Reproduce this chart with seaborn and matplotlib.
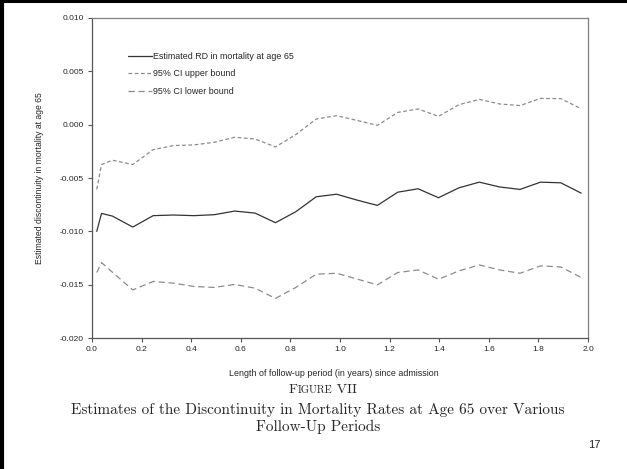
import matplotlib
matplotlib.use("Agg")
import matplotlib.pyplot as plt
import seaborn as sns
import pandas as pd
from matplotlib.lines import Line2D
from matplotlib.ticker import FormatStrFormatter, MultipleLocator

FIGURE_FILENAME = "out.png"
W, H = 627, 469

follow_up_days = [7, 14, 30, 60, 90, 120, 150, 180, 210, 240, 270, 300, 330,
                  360, 390, 420, 450, 480, 510, 540, 570, 600, 630, 660, 690, 720]
rd_estimate = [-0.01000, -0.00832, -0.00857, -0.00960, -0.00853, -0.00847, -0.00853,
               -0.00844, -0.00810, -0.00829, -0.00919, -0.00816, -0.00676, -0.00652,
               -0.00707, -0.00757, -0.00633, -0.00601, -0.00685, -0.00592, -0.00539,
               -0.00584, -0.00607, -0.00539, -0.00545, -0.00642]
ci_upper = [-0.00607, -0.00374, -0.00333, -0.00374, -0.00234, -0.00196, -0.00190,
            -0.00165, -0.00118, -0.00134, -0.00209, -0.00093, 0.00053, 0.00084,
            0.00040, -0.00007, 0.00115, 0.00147, 0.00078, 0.00187, 0.00237,
            0.00194, 0.00179, 0.00246, 0.00244, 0.00149]
ci_lower = [-0.01386, -0.01293, -0.01383, -0.01549, -0.01470, -0.01486, -0.01517,
            -0.01526, -0.01498, -0.01533, -0.01629, -0.01526, -0.01402, -0.01393,
            -0.01447, -0.01502, -0.01386, -0.01362, -0.01449, -0.01371, -0.01315,
            -0.01362, -0.01393, -0.01324, -0.01334, -0.01433]

series_labels = ["Estimated RD in mortality at age 65",
                 "95% CI upper bound",
                 "95% CI lower bound"]
x_label = "Length of follow-up period (in years) since admission"
y_label = "Estimated discontinuity in mortality at age 65"
caption_lines = ["Estimates of the Discontinuity in Mortality Rates at Age 65 over Various",
                 "Follow-Up Periods"]
page_number = "17"


def px(x, y):
    # pixel (from top-left) -> figure fraction
    return x / W, 1 - y / H


def small_caps_title(fig, y_px, pieces, center_px):
    renderer = fig.canvas.get_renderer()
    widths = []
    for text, size in pieces:
        t = fig.text(0, 0, text, fontsize=size, family="cmr10")
        widths.append(t.get_window_extent(renderer).width)
        t.remove()
    x = center_px - sum(widths) / 2
    for (text, size), w in zip(pieces, widths):
        fig.text(*px(x, y_px), text, fontsize=size, family="cmr10", va="baseline", ha="left")
        x += w


def main():
    sns.set_style("white")
    plt.rcParams["font.family"] = ["Liberation Sans", "DejaVu Sans"]

    years = [d / 365 for d in follow_up_days]
    df = pd.DataFrame({"years": years, "rd": rd_estimate, "upper": ci_upper, "lower": ci_lower})

    fig = plt.figure(figsize=(W / 100, H / 100), dpi=100)
    ax = fig.add_axes([92 / W, 1 - 338 / H, 496 / W, 320 / H])

    sns.lineplot(data=df, x="years", y="rd", ax=ax, color="#333333", linewidth=0.9,
                 label=series_labels[0])
    sns.lineplot(data=df, x="years", y="upper", ax=ax, color="#8c8c8c", linewidth=0.9,
                 linestyle=(0, (3, 2)), label=series_labels[1])
    sns.lineplot(data=df, x="years", y="lower", ax=ax, color="#8c8c8c", linewidth=0.9,
                 linestyle=(0, (5, 3)), label=series_labels[2])

    ax.set_xlim(0, 2.0)
    ax.set_ylim(-0.020, 0.010)
    ax.xaxis.set_major_locator(MultipleLocator(0.2))
    ax.yaxis.set_major_locator(MultipleLocator(0.005))
    ax.xaxis.set_major_formatter(FormatStrFormatter("%.1f"))
    ax.yaxis.set_major_formatter(FormatStrFormatter("%.3f"))
    ax.tick_params(axis="both", which="major", direction="out", length=3, width=0.8,
                   color="#555555", labelsize=6.0, pad=3, bottom=True, left=True)
    for side, sp in ax.spines.items():
        sp.set_color("#808080" if side in ("top", "right") else "#555555")
        sp.set_linewidth(0.9)

    ax.set_xlabel(x_label, fontsize=6.4)
    ax.set_ylabel(y_label, fontsize=6.2)
    ax.xaxis.set_label_coords((334 - 92) / 496, -0.098)
    ax.yaxis.set_label_coords(-0.097, 0.5)

    ax.legend(loc="upper left", bbox_to_anchor=px(128, 52), bbox_transform=fig.transFigure,
              frameon=False, fontsize=6.4, handlelength=2.7, handletextpad=0.15,
              labelspacing=0.95, borderpad=0, borderaxespad=0)

    # caption
    small_caps_title(fig, 393, [("F", 10.0), ("IGURE", 7.6), (" VII", 10.0)], 323)
    for i, line in enumerate(caption_lines):
        fig.text(*px(318, 414 + 17 * i), line, fontsize=11.0, family="cmr10",
                 ha="center", va="baseline")
    fig.text(*px(600, 448), page_number, fontsize=8, ha="right", va="baseline")

    # page frame: thick black edge on top and left
    fig.add_artist(Line2D([0, 1], [1 - 1.5 / H, 1 - 1.5 / H], transform=fig.transFigure,
                          color="black", linewidth=2.2))
    fig.add_artist(Line2D([2 / W, 2 / W], [0, 1], transform=fig.transFigure,
                          color="black", linewidth=3.0))

    fig.savefig(FIGURE_FILENAME, dpi=100)


if __name__ == "__main__":
    main()
